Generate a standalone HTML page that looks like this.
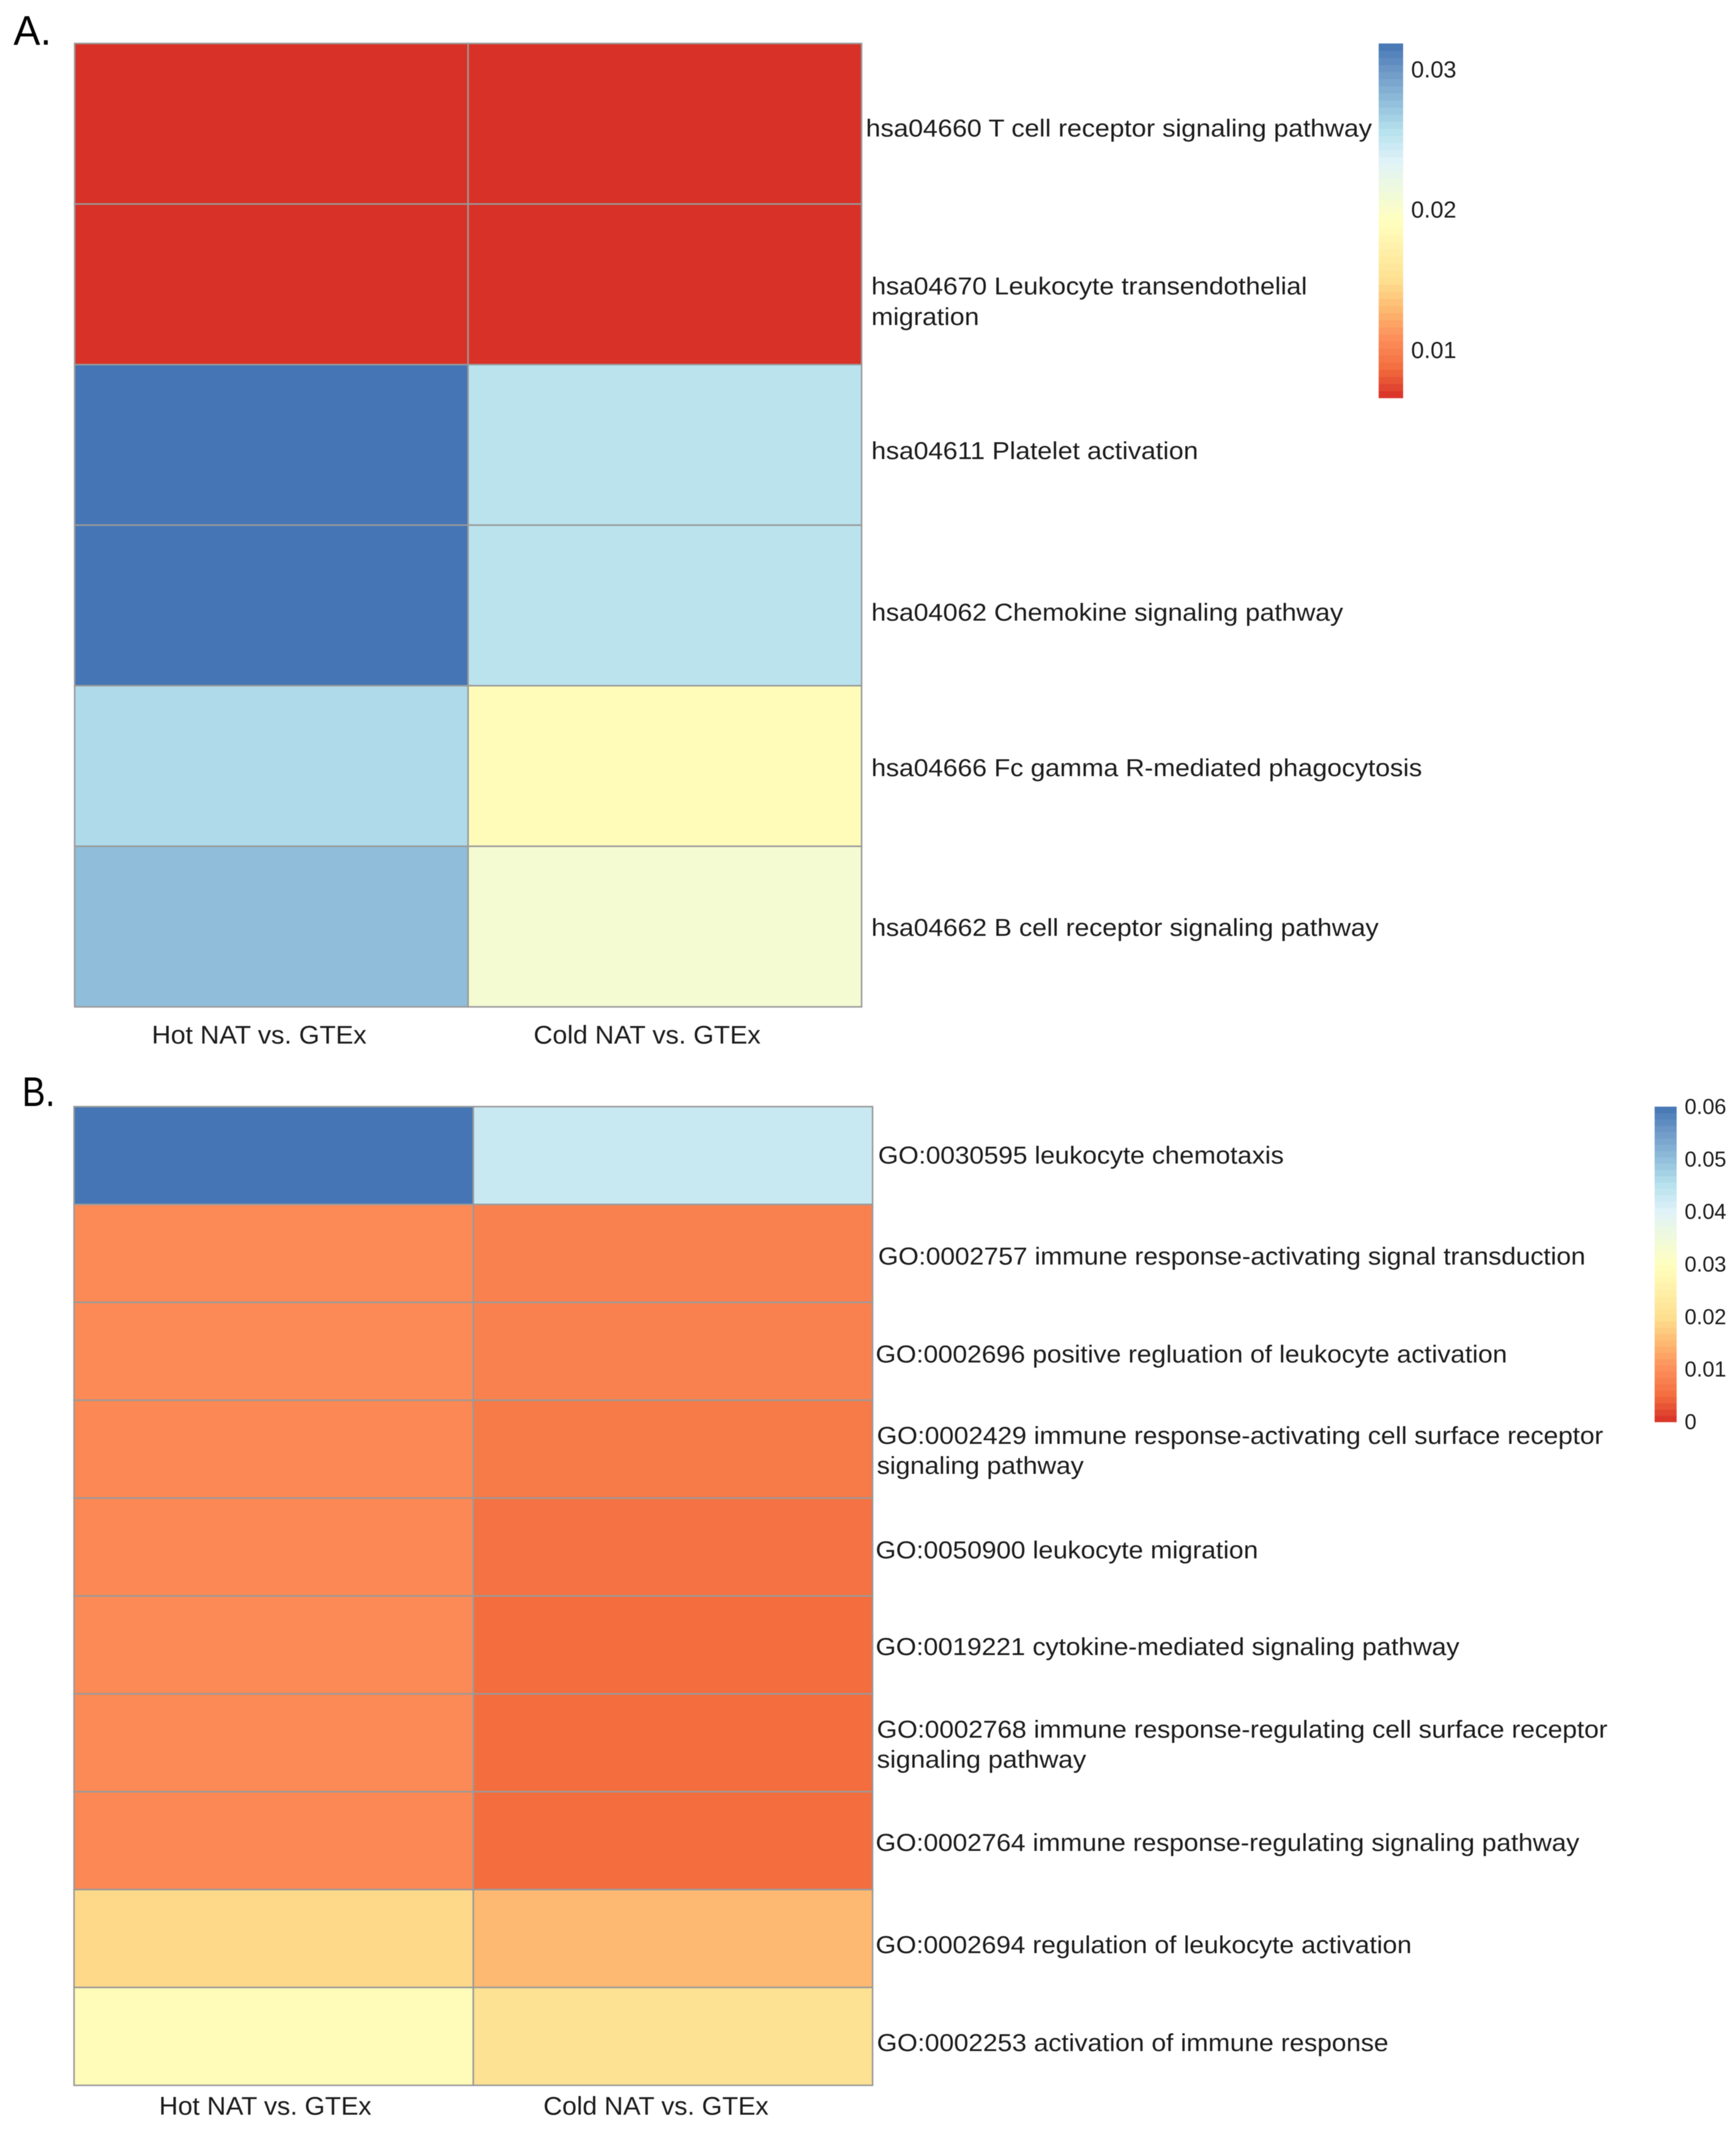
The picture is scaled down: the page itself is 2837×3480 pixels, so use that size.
<!DOCTYPE html>
<html lang="en">
<head>
<meta charset="utf-8">
<title>Pathway and GO term heatmaps</title>
<style>
html,body{margin:0;padding:0;background:#fff;width:2837px;height:3480px;overflow:hidden}
svg{display:block;filter:blur(0.6px)}
text{font-family:"Liberation Sans",Arial,sans-serif;fill:#1c1c1c}
.row{font-size:40px}
.col{font-size:42px}
.panel{font-size:68px;fill:#000}
</style>
</head>
<body>
<svg id="figure" xmlns="http://www.w3.org/2000/svg" width="2837" height="3480" viewBox="0 0 2837 3480">
  <rect width="2837" height="3480" fill="#fff"/>

  <text class="panel" x="22" y="73" textLength="62" lengthAdjust="spacingAndGlyphs">A.</text>
  <text class="panel" x="36" y="1807" textLength="54" lengthAdjust="spacingAndGlyphs">B.</text>

  <g id="panelA"></g>
  <g id="legendA"></g>
  <g id="panelB"></g>
  <g id="legendB"></g>

  <g>
    <text class="row" x="1415" y="223" textLength="827" lengthAdjust="spacingAndGlyphs">hsa04660 T cell receptor signaling pathway</text>
    <text class="row" x="1424" y="481" textLength="712" lengthAdjust="spacingAndGlyphs">hsa04670 Leukocyte transendothelial</text>
    <text class="row" x="1424" y="531" textLength="176" lengthAdjust="spacingAndGlyphs">migration</text>
    <text class="row" x="1424" y="750" textLength="534" lengthAdjust="spacingAndGlyphs">hsa04611 Platelet activation</text>
    <text class="row" x="1424" y="1014" textLength="771" lengthAdjust="spacingAndGlyphs">hsa04062 Chemokine signaling pathway</text>
    <text class="row" x="1424" y="1268" textLength="900" lengthAdjust="spacingAndGlyphs">hsa04666 Fc gamma R-mediated phagocytosis</text>
    <text class="row" x="1424" y="1529" textLength="829" lengthAdjust="spacingAndGlyphs">hsa04662 B cell receptor signaling pathway</text>
  </g>
  <g>
    <text class="col" x="248" y="1705" textLength="351" lengthAdjust="spacingAndGlyphs">Hot NAT vs. GTEx</text>
    <text class="col" x="872" y="1705" textLength="371" lengthAdjust="spacingAndGlyphs">Cold NAT vs. GTEx</text>
  </g>

  <g>
    <text class="row" x="1435" y="1901" textLength="663" lengthAdjust="spacingAndGlyphs">GO:0030595 leukocyte chemotaxis</text>
    <text class="row" x="1435" y="2066" textLength="1156" lengthAdjust="spacingAndGlyphs">GO:0002757 immune response-activating signal transduction</text>
    <text class="row" x="1431" y="2226" textLength="1032" lengthAdjust="spacingAndGlyphs">GO:0002696 positive regluation of leukocyte activation</text>
    <text class="row" x="1433" y="2359" textLength="1187" lengthAdjust="spacingAndGlyphs">GO:0002429 immune response-activating cell surface receptor</text>
    <text class="row" x="1433" y="2408" textLength="338" lengthAdjust="spacingAndGlyphs">signaling pathway</text>
    <text class="row" x="1431" y="2546" textLength="625" lengthAdjust="spacingAndGlyphs">GO:0050900 leukocyte migration</text>
    <text class="row" x="1431" y="2704" textLength="954" lengthAdjust="spacingAndGlyphs">GO:0019221 cytokine-mediated signaling pathway</text>
    <text class="row" x="1433" y="2839" textLength="1194" lengthAdjust="spacingAndGlyphs">GO:0002768 immune response-regulating cell surface receptor</text>
    <text class="row" x="1433" y="2888" textLength="342" lengthAdjust="spacingAndGlyphs">signaling pathway</text>
    <text class="row" x="1431" y="3024" textLength="1150" lengthAdjust="spacingAndGlyphs">GO:0002764 immune response-regulating signaling pathway</text>
    <text class="row" x="1431" y="3191" textLength="876" lengthAdjust="spacingAndGlyphs">GO:0002694 regulation of leukocyte activation</text>
    <text class="row" x="1433" y="3351" textLength="836" lengthAdjust="spacingAndGlyphs">GO:0002253 activation of immune response</text>
  </g>
  <g>
    <text class="col" x="260" y="3455" textLength="347" lengthAdjust="spacingAndGlyphs">Hot NAT vs. GTEx</text>
    <text class="col" x="888" y="3455" textLength="368" lengthAdjust="spacingAndGlyphs">Cold NAT vs. GTEx</text>
  </g>
</svg>

<script>
// Panel A: values (Hot, Cold per row)
const panelAHot = [0.0066, 0.0066, 0.0318, 0.0318, 0.0260, 0.0277];
const panelACold = [0.0066, 0.0066, 0.0254, 0.0254, 0.0187, 0.0207];
const legendADomain = [0.00656, 0.0318];
const legendATicks = [0.03, 0.02, 0.01];
const legendATickLabels = ['0.03', '0.02', '0.01'];

// Panel B: values (Hot, Cold per row)
const panelBHot = [0.06, 0.0096, 0.0096, 0.0092, 0.0092, 0.0096, 0.0096, 0.0092, 0.0191, 0.0285];
const panelBCold = [0.043, 0.0082, 0.0082, 0.0070, 0.0058, 0.0050, 0.0050, 0.0050, 0.0150, 0.0207];
const legendBDomain = [0, 0.06];
const legendBTicks = [0.06, 0.05, 0.04, 0.03, 0.02, 0.01, 0];
const legendBTickLabels = ['0.06', '0.05', '0.04', '0.03', '0.02', '0.01', '0'];

const palette = [[215,48,39],[243,109,63],[252,141,89],[253,185,113],[254,224,144],[255,240,168],[255,255,191],[240,250,219],[224,243,248],[184,226,238],[145,191,219],[113,155,200],[69,117,180]];
const NS = 'http://www.w3.org/2000/svg';

function colorAt(t) {
  const c = Math.max(0, Math.min(1, t)) * (palette.length - 1);
  const i = Math.min(palette.length - 2, Math.floor(c));
  const f = c - i;
  const rgb = palette[i].map(function (a, k) { return Math.round(a + (palette[i + 1][k] - a) * f); });
  return 'rgb(' + rgb.join(',') + ')';
}

function drawHeatmap(groupId, columns, domain, box) {
  const g = document.getElementById(groupId);
  const rowCount = columns[0].length;
  const xAxis = function (c) { return box.left + (box.right - box.left) * c / columns.length; };
  const yAxis = function (r) { return box.top + (box.bottom - box.top) * r / rowCount; };
  columns.forEach(function (values, c) {
    values.forEach(function (v, r) {
      const cell = document.createElementNS(NS, 'rect');
      
      
      cell.setAttribute('x', xAxis(c));
      cell.setAttribute('y', yAxis(r));
      cell.setAttribute('width', xAxis(c + 1) - xAxis(c));
      cell.setAttribute('height', yAxis(r + 1) - yAxis(r));
      cell.setAttribute('fill', colorAt((v - domain[0]) / (domain[1] - domain[0])));
      cell.setAttribute('stroke', '#9a9a9a');
      cell.setAttribute('stroke-width', '2.5');
      g.appendChild(cell);
    });
  });
}

function drawLegend(groupId, domain, ticks, labels, box) {
  const g = document.getElementById(groupId);
  const yAxis = function (v) {
    return box.bottom - (v - domain[0]) / (domain[1] - domain[0]) * (box.bottom - box.top);
  };
  const bands = 50;
  const step = (domain[1] - domain[0]) / bands;
  for (let i = 0; i < bands; i++) {
    const lo = domain[0] + step * i;
    const band = document.createElementNS(NS, 'rect');
    
    
    band.setAttribute('x', box.left);
    band.setAttribute('y', yAxis(lo + step));
    band.setAttribute('width', box.right - box.left);
    band.setAttribute('height', yAxis(lo) - yAxis(lo + step) + 0.6);
    band.setAttribute('fill', colorAt((i + 0.5) / bands));
    g.appendChild(band);
  }
  ticks.forEach(function (v, i) {
    const t = document.createElementNS(NS, 'text');
    
    
    t.setAttribute('x', box.labelX);
    t.setAttribute('y', yAxis(v) + box.labelDy);
    t.setAttribute('font-size', box.fontSize);
    t.textContent = labels[i];
    g.appendChild(t);
  });
}

drawHeatmap('panelA', [panelAHot, panelACold], legendADomain, {left: 122, right: 1408, top: 71, bottom: 1645});
drawHeatmap('panelB', [panelBHot, panelBCold], legendBDomain, {left: 121, right: 1426, top: 1808, bottom: 3407});
drawLegend('legendA', legendADomain, legendATicks, legendATickLabels, {left: 2253, right: 2293, top: 71, bottom: 650, labelX: 2306, labelDy: 14, fontSize: 38});
drawLegend('legendB', legendBDomain, legendBTicks, legendBTickLabels, {left: 2704, right: 2740, top: 1808, bottom: 2323, labelX: 2753, labelDy: 12, fontSize: 35});
</script>
</body>
</html>
